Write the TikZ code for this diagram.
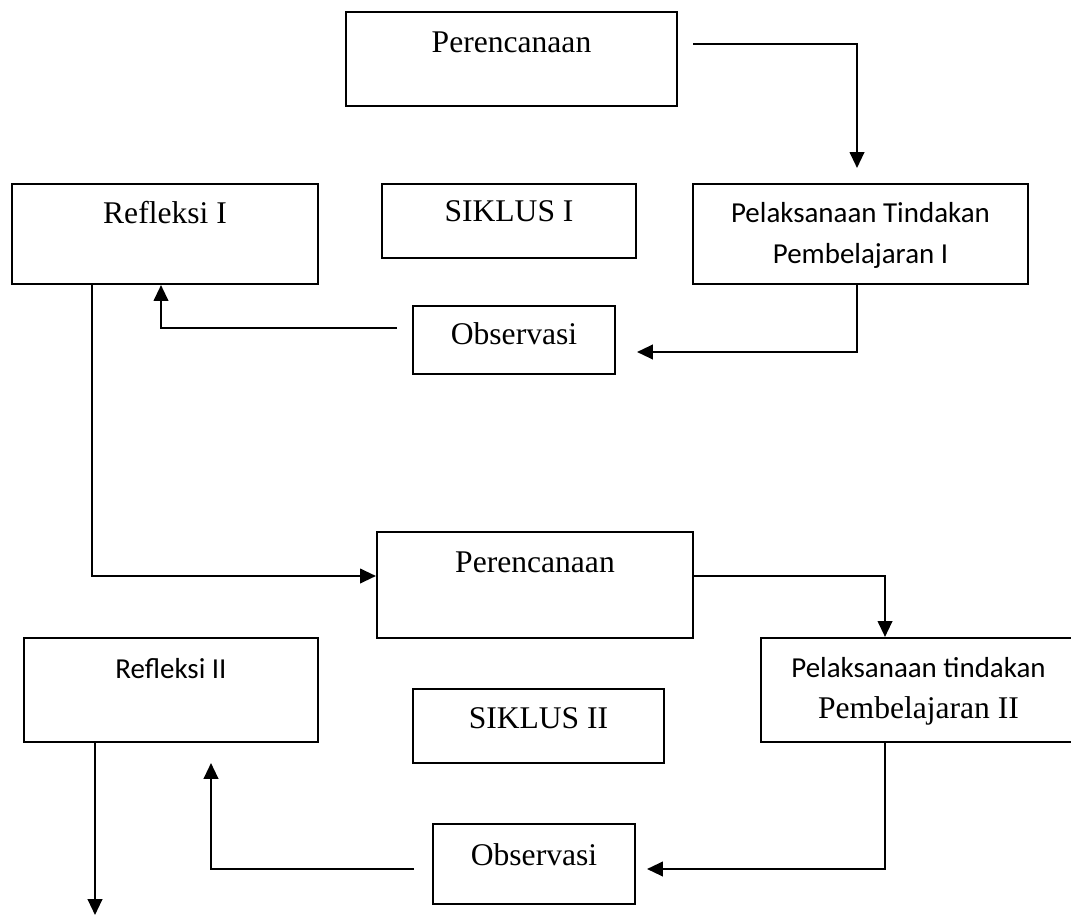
\documentclass[tikz,border=0pt]{standalone}
\usepackage{fontspec}
\setmainfont{Liberation Serif}
\newfontfamily\calibri{Carlito}
\usetikzlibrary{arrows.meta,calc}
\tikzset{box/.style 2 args={draw, line width=0.8pt, inner sep=0pt, minimum width=#1*0.38pt, minimum height=#2*0.38pt}}
\tikzset{tnr/.style={anchor=base, inner sep=0pt, font=\fontsize{12}{14}\selectfont}}
\tikzset{cal/.style={anchor=base, inner sep=0pt, font=\calibri\fontsize{11}{13}\selectfont}}
\tikzset{flow/.style={draw, line width=0.8pt, -{Triangle[length=6pt,width=5.5pt]}}}

\begin{document}
\begin{tikzpicture}[x=0.38pt,y=-0.38pt]
		\useasboundingbox (0,0) rectangle (1071,916);
		
		% siklus I
		\node[box={331}{94}] (plan1) at (511.5,59) {};
		\node[box={306}{100}] (refl1) at (165,234) {};
		\node[box={254}{74}] (cyc1) at (509,221) {};
		\node[box={335}{100}] (act1) at (860.5,234) {};
		\node[box={202}{68}] (obs1) at (514,340) {};
		
		\node[tnr] (plan1t) at (511.5,53) {Perencanaan};
		\node[tnr] (refl1t) at (165,224) {Refleksi I};
		\node[tnr] (cyc1t) at (509,222) {SIKLUS I};
		\node[cal] (act1t) at (860.5,223) {Pelaksanaan Tindakan};
		\node[cal] (act1u) at (860.5,264) {Pembelajaran I};
		\node[tnr] (obs1t) at (514,345) {Observasi};
		
		% siklus II
		\node[box={316}{106}] (plan2) at (535,585) {};
		\node[box={294}{104}] (refl2) at (171,690) {};
		\node[box={251}{74}] (cyc2) at (538.5,726) {};
		\node[box={315}{104}] (act2) at (918.5,690) {};
		\node[box={202}{80}] (obs2) at (534,864) {};
		
		\node[tnr] (plan2t) at (535,572) {Perencanaan};
		\node[cal] (refl2t) at (171,678) {Refleksi II};
		\node[tnr] (cyc2t) at (538.5,728) {SIKLUS II};
		\node[cal] (act2t) at (918.5,677) {Pelaksanaan tindakan};
		\node[tnr] (act2u) at (918.5,718) {Pembelajaran II};
		\node[tnr] (obs2t) at (534,865) {Observasi};
		
		\coordinate (p1) at (693,44);
		\coordinate (p2) at (857,168);
		\coordinate (p3) at (637,352);
		\coordinate (p4) at (397,328);
		\coordinate (p5) at (647,869);
		\coordinate (p6) at (414,869);
		\coordinate (p7) at (211,763);
		\coordinate (p8) at (95,915);
		
		\path[flow] (p1) -| (p2);
		\path[flow] ($(act1.south)+(-3.5,0)$) |- (p3);
		\path[flow] (p4) -| ($(refl1.south)+(-4,0)$);
		\path[flow] ($(refl1.south)+(-73,0)$) |- ($(plan2.west)+(0,-9)$);
		\path[flow] ($(plan2.east)+(0,-9)$) -| ($(act2.north)+(-33.5,0)$);
		\path[flow] ($(act2.south)+(-33.5,0)$) |- (p5);
		\path[flow] (p6) -| (p7);
		\path[flow] ($(refl2.south)+(-76,0)$) -- (p8);
		
\end{tikzpicture}
\end{document}
